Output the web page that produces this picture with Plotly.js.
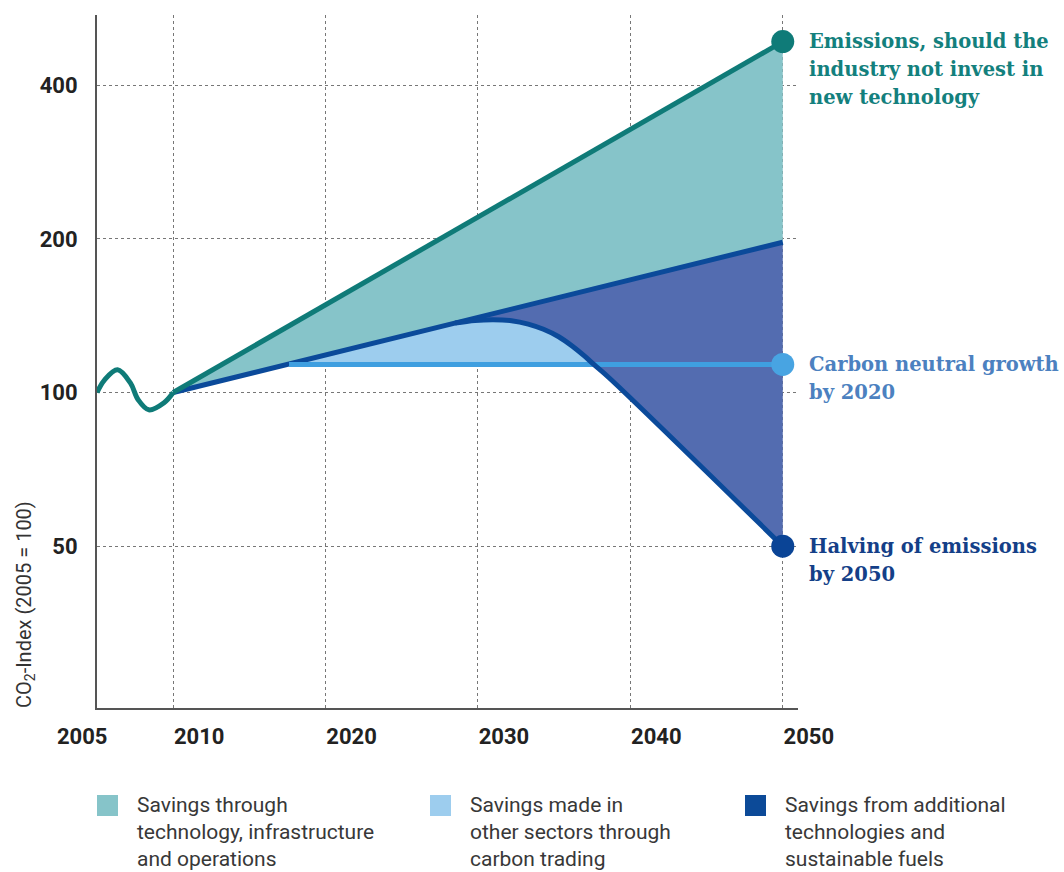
<!DOCTYPE html>
<html><head><meta charset="utf-8">
<script src="https://cdn.plot.ly/plotly-3.0.1.min.js"></script>
<style>html,body{margin:0;padding:0;background:#fff}</style>
</head><body><div id="chart" style="width:1064px;height:872px"></div>
<script>
// ---- data ----
const histYears = [2005, 2005.5, 2006.35, 2007.2, 2007.7, 2008.4, 2009.4, 2010];
const histIndex = [100, 105.9, 110.8, 104.3, 96.8, 92.5, 95.5, 100];

const noInvestYears = [2010, 2050];
const noInvestIndex = [100, 487];

const techYears = [2010, 2050];
const techIndex = [100, 197];

const neutralYears = [2017.6, 2050];
const neutralIndex = [113.5, 113.5];

const halvingYears = [2028.5, 2029.8, 2031.0, 2032.2, 2033.3, 2034.3, 2035.3, 2036.2, 2037.0, 2037.6, 2038.6, 2050];
const halvingIndex = [136.8, 138.4, 138.9, 138.3, 136.2, 133.0, 128.6, 123.2, 117.8, 113.5, 106.9, 50];

const xTicks = [2010, 2020, 2030, 2040, 2050];
const yTicks = [50, 100, 200, 400];
const firstYearLabel = "2005";

const endLabels = [
  ["Emissions, should the", "industry not invest in", "new technology"],
  ["Carbon neutral growth", "by 2020"],
  ["Halving of emissions", "by 2050"]
];
const legendLabels = [
  ["Savings through", "technology, infrastructure", "and operations"],
  ["Savings made in", "other sectors through", "carbon trading"],
  ["Savings from additional", "technologies and", "sustainable fuels"]
];
const yTitle = "CO<sub>2</sub>-Index (2005 = 100)";

// ---- styles ----
const C = {
  teal: '#0f7b78', tealFill: '#86c4c9',
  dark: '#0b4a9a', darkFill: '#536cb0', darkMarker: '#0a4496',
  light: '#3f9fe0', lightFill: '#9dcdee', lightMarker: '#48a4e2',
  txtTeal: '#13807d', txtMid: '#4c81c0', txtDark: '#143f88',
  legendSw: ['#86c4c9', '#9dcdee', '#0c4a98']
};

const nLast = halvingYears.length - 1;
const k = halvingIndex.findIndex(v => v <= neutralIndex[0]);

const base = (x, y) => ({
  type: 'scatter', mode: 'lines', x: x, y: y, line: {width: 0, color: 'rgba(0,0,0,0)'},
  hoverinfo: 'skip', showlegend: false
});
const filler = (x, y, color, shape) => ({
  type: 'scatter', mode: 'lines', x: x, y: y, fill: 'tonexty', fillcolor: color,
  line: {width: 0, color: color, shape: shape || 'linear'}, hoverinfo: 'skip', showlegend: false
});
const lineTrace = (x, y, color, w, shape) => ({
  type: 'scatter', mode: 'lines', x: x, y: y, cliponaxis: false,
  line: {color: color, width: w, shape: shape || 'linear'}, hoverinfo: 'skip', showlegend: false
});

const traces = [
  base(techYears, techIndex),
  filler(noInvestYears, noInvestIndex, C.tealFill),
  base([halvingYears[0], techYears[1]], [halvingIndex[0], techIndex[1]]),
  filler(halvingYears, halvingIndex, C.darkFill, 'spline'),
  base([neutralYears[0], halvingYears[k]], [neutralIndex[0], neutralIndex[0]]),
  filler([neutralYears[0]].concat(halvingYears.slice(0, k + 1)),
         [neutralIndex[0]].concat(halvingIndex.slice(0, k + 1)), C.lightFill, 'spline'),
  lineTrace(techYears, techIndex, C.dark, 5),
  lineTrace(neutralYears, neutralIndex, C.light, 5),
  lineTrace(halvingYears, halvingIndex, C.dark, 5, 'spline'),
  lineTrace(noInvestYears, noInvestIndex, C.teal, 5),
  lineTrace(histYears, histIndex, C.teal, 5, 'spline'),
  {
    type: 'scatter', mode: 'markers', cliponaxis: false, showlegend: false, hoverinfo: 'skip',
    x: [noInvestYears[1], neutralYears[1], halvingYears[nLast]],
    y: [noInvestIndex[1], neutralIndex[1], halvingIndex[nLast]],
    marker: {size: 23, color: [C.teal, C.lightMarker, C.darkMarker], line: {width: 0}}
  }
];

const ML = 97, MR = 266, MT = 15, MB = 164, W = 1064, H = 872;
const PW = W - ML - MR, PH = H - MT - MB;
const px = v => (v - ML) / PW;
const py = v => (H - MB - v) / PH;

const annotations = [];
const endY = [noInvestIndex[1], neutralIndex[1], halvingIndex[nLast]];
const endColors = [C.txtTeal, C.txtMid, C.txtDark];
endLabels.forEach((lines, i) => {
  lines.forEach((t, j) => {
    annotations.push({
      x: 2050, y: Math.log10(endY[i]), xref: 'x', yref: 'y', text: t, showarrow: false,
      xanchor: 'left', yanchor: 'middle', xshift: 24, yshift: -28 * j,
      font: {family: 'DejaVu Serif', size: 19.5, color: endColors[i], weight: 700}
    });
  });
});
annotations.push({
  x: histYears[0], y: 0, xref: 'x', yref: 'paper', text: firstYearLabel, showarrow: false,
  xanchor: 'center', yanchor: 'top', xshift: -15, yshift: -14,
  font: {family: 'Roboto', size: 22, color: '#222', weight: 700}
});
annotations.push({
  x: px(25), y: py(605), xref: 'paper', yref: 'paper', text: yTitle, showarrow: false,
  textangle: -90, xanchor: 'center', yanchor: 'middle',
  font: {family: 'Roboto', size: 20, color: '#333'}
});

const legendX = [97, 430, 745];
const shapes = [];
legendLabels.forEach((lines, i) => {
  shapes.push({
    type: 'rect', xref: 'paper', yref: 'paper', x0: px(legendX[i]), x1: px(legendX[i] + 21),
    y0: py(795), y1: py(816), fillcolor: C.legendSw[i], line: {width: 0}
  });
  lines.forEach((t, j) => {
    annotations.push({
      x: px(legendX[i] + 38), y: py(805 + 27 * j), xref: 'paper', yref: 'paper', text: t,
      showarrow: false, xanchor: 'left', yanchor: 'middle',
      font: {family: 'Roboto', size: 21, color: '#383838'}
    });
  });
});

const layout = {
  width: W, height: H,
  margin: {l: ML, r: MR, t: MT, b: MB, pad: 0},
  paper_bgcolor: '#fff', plot_bgcolor: '#fff',
  showlegend: false,
  xaxis: {
    type: 'linear', range: [2005, 2051], tickvals: xTicks, ticktext: xTicks.map(String),
    showgrid: true, gridcolor: '#777', griddash: 'dot', gridwidth: 1,
    showline: true, linecolor: '#555', linewidth: 2, zeroline: false, ticks: '',
    ticklabelshift: 26, ticklabelstandoff: 8,
    tickfont: {family: 'Roboto', size: 22, color: '#222', weight: 700}
  },
  yaxis: {
    type: 'log', range: [Math.log10(24.1), Math.log10(549)], tickvals: yTicks, ticktext: yTicks.map(String),
    showgrid: true, gridcolor: '#777', griddash: 'dot', gridwidth: 1,
    showline: true, linecolor: '#555', linewidth: 2, zeroline: false, ticks: '',
    ticklabelstandoff: 13,
    tickfont: {family: 'Roboto', size: 22, color: '#222', weight: 700}
  },
  annotations: annotations,
  shapes: shapes
};

Plotly.newPlot('chart', traces, layout, {staticPlot: true, displayModeBar: false});
</script>
</body></html>
